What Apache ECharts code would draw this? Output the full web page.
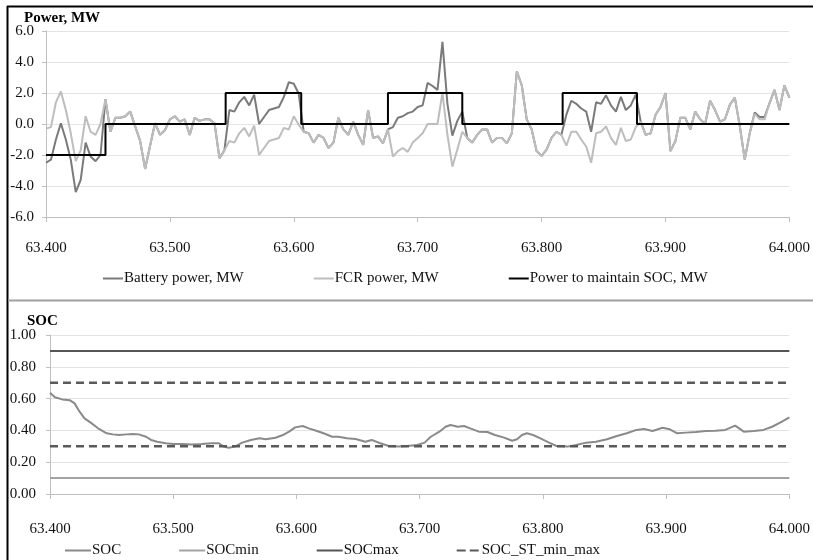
<!DOCTYPE html>
<html>
<head>
<meta charset="utf-8">
<script src="https://cdn.jsdelivr.net/npm/echarts@6/dist/echarts.min.js"></script>
<style>
html,body{margin:0;padding:0;background:#fff;}
#chart{width:813px;height:560px;}
</style>
</head>
<body>
<div id="chart"></div>
<script>
// ---- data ----
const tPow = [
63400,63404,63408,63412,63416,63420,63424,63428,63432,63436,
63440,63444,63448,63452,63456,63460,63464,63468,63472,63476,
63480,63484,63488,63492,63496,63500,63504,63508,63512,63516,
63520,63524,63528,63532,63536,63540,63544,63548,63552,63556,
63560,63564,63568,63572,63576,63580,63584,63588,63592,63596,
63600,63604,63608,63612,63616,63620,63624,63628,63632,63636,
63640,63644,63648,63652,63656,63660,63664,63668,63672,63676,
63680,63684,63688,63692,63696,63700,63704,63708,63712,63716,
63720,63724,63728,63732,63736,63740,63744,63748,63752,63756,
63760,63764,63768,63772,63776,63780,63784,63788,63792,63796,
63800,63804,63808,63812,63816,63820,63824,63828,63832,63836,
63840,63844,63848,63852,63856,63860,63864,63868,63872,63876,
63880,63884,63888,63892,63896,63900,63904,63908,63912,63916,
63920,63924,63928,63932,63936,63940,63944,63948,63952,63956,
63960,63964,63968,63972,63976,63980,63984,63988,63992,63996,
64000];
const fcrPower = [
-0.3,-0.2,1.4,2.1,0.9,-0.6,-2.4,-1.7,0.5,-0.5,
-0.7,0.0,1.6,-0.5,0.4,0.4,0.5,0.8,-0.15,-1.1,
-2.9,-1.4,0.05,-0.7,-0.4,0.3,0.5,0.15,0.3,-0.7,
0.4,0.2,0.3,0.3,0.05,-2.2,-1.7,-1.1,-1.2,-0.6,
-0.25,-0.8,-0.1,-2.0,-1.55,-1.1,-1.0,-0.9,-0.25,-0.35,
0.5,-0.05,-0.5,-0.6,-1.2,-0.7,-0.9,-1.55,-1.2,0.4,
-0.35,-0.7,0.15,-0.7,-1.35,0.9,-0.9,-0.8,-1.25,-0.35,
-2.1,-1.75,-1.55,-1.8,-1.2,-0.9,-0.6,0,0,0,
2.0,-0.7,-2.75,-1.65,-0.5,-0.9,-1.2,-0.7,-0.35,-0.35,
-1.2,-0.9,-0.9,-1.25,-0.6,3.4,2.5,0.3,-0.35,-1.75,
-2.05,-1.65,-0.9,-0.5,-0.7,-1.4,-0.5,-0.5,-1.0,-1.45,
-2.5,-0.6,-0.5,-0.15,-0.9,-1.35,-0.25,-1.1,-1.0,-0.2,
0.15,-0.7,-0.6,0.6,1.1,2.0,-1.75,-1.1,0.4,0.4,
-0.35,0.8,0.3,0.0,1.5,0.9,0.15,0.3,1.25,1.7,
-0.15,-2.3,-0.6,0.65,0.3,0.3,1.35,2.2,0.9,2.5,
1.7];
const batteryPower = [
-2.5,-2.3,-1.0,0.05,-1.0,-2.3,-4.4,-3.6,-1.2,-2.1,
-2.4,-2.0,1.6,-0.5,0.4,0.4,0.5,0.8,-0.15,-1.1,
-2.9,-1.4,0.05,-0.7,-0.4,0.3,0.5,0.15,0.3,-0.7,
0.4,0.2,0.3,0.3,0.05,-2.2,-1.7,0.9,0.8,1.4,
1.75,1.2,1.9,0.0,0.45,0.9,1.0,1.1,1.75,2.7,
2.6,1.95,-0.5,-0.6,-1.2,-0.7,-0.9,-1.55,-1.2,0.4,
-0.35,-0.7,0.15,-0.7,-1.35,0.9,-0.9,-0.8,-1.25,-0.35,
-0.2,0.4,0.5,0.7,0.8,1.1,1.2,2.65,2.45,2.2,
5.3,1.3,-0.75,0.2,0.8,-0.9,-1.2,-0.7,-0.35,-0.35,
-1.2,-0.9,-0.9,-1.25,-0.6,3.4,2.5,0.3,-0.35,-1.75,
-2.05,-1.65,-0.9,-0.5,-0.7,0.6,1.5,1.3,1.0,0.8,
-0.5,1.4,1.3,1.85,1.2,0.8,1.75,0.9,1.2,1.9,
0.15,-0.7,-0.6,0.6,1.1,2.0,-1.75,-1.1,0.4,0.4,
-0.35,0.8,0.3,0.0,1.5,0.9,0.15,0.3,1.25,1.7,
-0.15,-2.3,-0.6,0.75,0.45,0.45,1.35,2.2,0.9,2.5,
1.7];
const maintainT = [63400,63448,63545,63606,63676,63736,63817,63877,64000];
const maintainV = [-2,0,2,0,2,0,2,0,0];

const socT = [63400,63404,63410,63416,63420,63424,63428,63433,63439,63446,
63451,63456,63462,63467,63472,63478,63482,63487,63494,63500,
63507,63515,63523,63531,63537,63541,63545,63550,63556,63563,
63570,63575,63583,63589,63594,63599,63605,63610,63616,63622,
63629,63634,63641,63648,63656,63661,63668,63675,63683,63690,
63698,63704,63709,63716,63721,63725,63731,63736,63741,63748,
63755,63761,63768,63775,63779,63783,63787,63792,63798,63805,
63811,63820,63827,63835,63843,63852,63860,63868,63876,63882,
63889,63897,63903,63909,63916,63924,63932,63940,63948,63956,
63963,63971,63979,63986,63994,64000];
const socV = [0.637,0.608,0.595,0.59,0.57,0.518,0.476,0.449,0.413,0.382,
0.375,0.371,0.375,0.377,0.375,0.36,0.34,0.329,0.319,0.314,
0.314,0.312,0.314,0.319,0.319,0.298,0.291,0.298,0.323,0.34,
0.35,0.344,0.354,0.371,0.392,0.419,0.428,0.413,0.398,0.382,
0.36,0.36,0.35,0.346,0.329,0.34,0.319,0.302,0.298,0.302,
0.308,0.323,0.36,0.392,0.423,0.434,0.423,0.428,0.413,0.392,
0.39,0.371,0.356,0.335,0.344,0.371,0.382,0.371,0.35,0.323,
0.302,0.298,0.308,0.323,0.329,0.344,0.365,0.382,0.403,0.409,
0.396,0.417,0.407,0.382,0.386,0.39,0.396,0.398,0.403,0.43,
0.392,0.396,0.403,0.423,0.455,0.482];
const socMinLevel = 0.1;
const socMaxLevel = 0.9;
const socSTLevels = [0.3, 0.7];
const xRange = [63400, 64000];
const xStep = 100;
const powerRange = [-6, 6];
const powerStep = 2;
const socRange = [0, 1];
const socStep = 0.2;

// ---- chart ----
const FONT = '"Liberation Serif", "DejaVu Serif", serif';
const zip = (a, b) => a.map((v, i) => [v, b[i]]);
const flat = (lvl) => [[xRange[0], lvl], [xRange[1], lvl]];
const xFmt = v => (v / 1000).toFixed(3);

const chart = echarts.init(document.getElementById('chart'), null, {renderer: 'canvas'});

function xAxisCfg(grid, margin) {
  return {
    type: 'value', gridIndex: grid, min: xRange[0], max: xRange[1], interval: xStep,
    axisLine: {show: true, onZero: false, lineStyle: {color: '#bfbfbf', width: 1}},
    axisTick: {show: true, length: 5, lineStyle: {color: '#bfbfbf'}},
    axisLabel: {formatter: xFmt, margin: margin, fontFamily: FONT, fontSize: 15, color: '#111'},
    splitLine: {show: false}
  };
}
function yAxisCfg(grid, range, step, dec, margin) {
  return {
    type: 'value', gridIndex: grid, min: range[0], max: range[1], interval: step,
    axisLine: {show: true, lineStyle: {color: '#bfbfbf', width: 1}},
    axisTick: {show: true, length: 4, lineStyle: {color: '#bfbfbf'}},
    axisLabel: {formatter: v => v.toFixed(dec), margin: margin, fontFamily: FONT, fontSize: 15, color: '#111'},
    splitLine: {show: true, lineStyle: {color: '#e3e3e3', width: 1}}
  };
}
const lineBase = {type: 'line', symbol: 'none', showSymbol: false, animation: false};
const legendText = {fontFamily: FONT, fontSize: 15, color: '#111', padding: [0, 0, 0, -4]};
const DASH_ICON = 'path://M0,0H9V2H0Z M13,0H22V2H13Z';

chart.setOption({
  animation: false,
  backgroundColor: '#fff',
  title: [
    {text: 'Power, MW', left: 19, top: 6, textStyle: {fontFamily: FONT, fontSize: 15, fontWeight: 'bold', color: '#000'}},
    {text: 'SOC', left: 22, top: 309, textStyle: {fontFamily: FONT, fontSize: 15, fontWeight: 'bold', color: '#000'}}
  ],
  grid: [
    {left: 46, top: 31, width: 751, height: 186},
    {left: 50, top: 335, width: 744, height: 159}
  ],
  xAxis: [xAxisCfg(0, 24), xAxisCfg(1, 28)],
  yAxis: [yAxisCfg(0, powerRange, powerStep, 1, 12), yAxisCfg(1, socRange, socStep, 2, 14)],
  legend: [
    {left: 98, top: 266, itemGap: 70, itemWidth: 20, itemHeight: 2, selectedMode: false,
     textStyle: legendText,
     data: [{name: 'Battery power, MW', icon: 'rect'}, {name: 'FCR power, MW', icon: 'rect'},
            {name: 'Power to maintain SOC, MW', icon: 'rect'}]},
    {left: 60, top: 538, itemGap: 58, itemWidth: 26, itemHeight: 2, selectedMode: false,
     textStyle: legendText,
     data: [{name: 'SOC', icon: 'rect'}, {name: 'SOCmin', icon: 'rect'}, {name: 'SOCmax', icon: 'rect'},
            {name: 'SOC_ST_min_max', icon: DASH_ICON}]}
  ],
  graphic: [
    {type: 'line', shape: {x1: 7.5, y1: 6, x2: 7.5, y2: 560}, style: {stroke: '#000', lineWidth: 2}, silent: true},
    {type: 'line', shape: {x1: 7, y1: 6.5, x2: 813, y2: 6.5}, style: {stroke: '#000', lineWidth: 2}, silent: true},
    {type: 'line', shape: {x1: 8, y1: 300.5, x2: 813, y2: 300.5}, style: {stroke: '#a0a0a0', lineWidth: 2}, silent: true}
  ],
  series: [
    Object.assign({}, lineBase, {name: 'Battery power, MW', xAxisIndex: 0, yAxisIndex: 0,
      data: zip(tPow, batteryPower), lineStyle: {color: '#7a7a7a', width: 2}, itemStyle: {color: '#7a7a7a'}}),
    Object.assign({}, lineBase, {name: 'FCR power, MW', xAxisIndex: 0, yAxisIndex: 0,
      data: zip(tPow, fcrPower), lineStyle: {color: '#bdbdbd', width: 2}, itemStyle: {color: '#bdbdbd'}}),
    Object.assign({}, lineBase, {name: 'Power to maintain SOC, MW', xAxisIndex: 0, yAxisIndex: 0, step: 'end',
      data: zip(maintainT, maintainV), lineStyle: {color: '#000', width: 2}, itemStyle: {color: '#000'}}),
    Object.assign({}, lineBase, {name: 'SOC', xAxisIndex: 1, yAxisIndex: 1,
      data: zip(socT, socV), lineStyle: {color: '#8a8a8a', width: 2}, itemStyle: {color: '#8a8a8a'}}),
    Object.assign({}, lineBase, {name: 'SOCmin', xAxisIndex: 1, yAxisIndex: 1,
      data: flat(socMinLevel), lineStyle: {color: '#a3a3a3', width: 2}, itemStyle: {color: '#a3a3a3'}}),
    Object.assign({}, lineBase, {name: 'SOCmax', xAxisIndex: 1, yAxisIndex: 1,
      data: flat(socMaxLevel), lineStyle: {color: '#555', width: 2}, itemStyle: {color: '#555'}}),
    Object.assign({}, lineBase, {name: 'SOC_ST_min_max', xAxisIndex: 1, yAxisIndex: 1,
      data: flat(socSTLevels[0]), lineStyle: {color: '#5a5a5a', width: 2.5, type: [8, 5]}, itemStyle: {color: '#5a5a5a'}}),
    Object.assign({}, lineBase, {name: 'SOC_ST_min_max', xAxisIndex: 1, yAxisIndex: 1,
      data: flat(socSTLevels[1]), lineStyle: {color: '#5a5a5a', width: 2.5, type: [8, 5]}, itemStyle: {color: '#5a5a5a'}})
  ]
});
</script>
</body>
</html>
